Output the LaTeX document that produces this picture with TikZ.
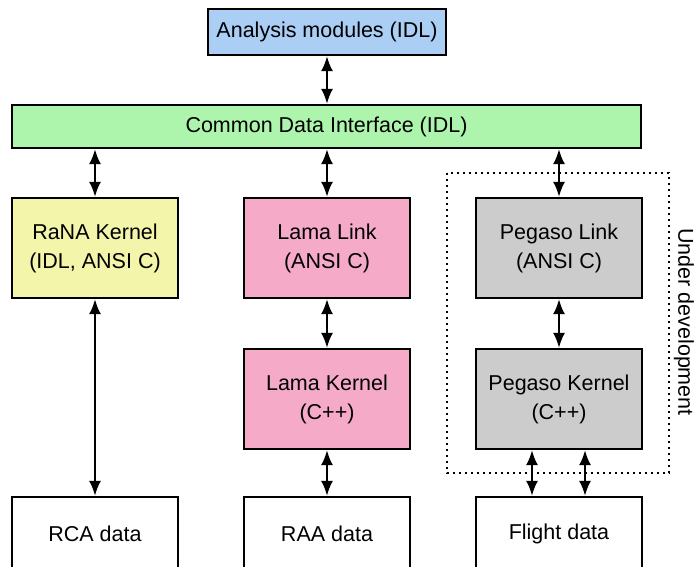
\documentclass[tikz,border=0pt]{standalone}
\usepackage{fontspec}
\setmainfont{Liberation Sans}
\usetikzlibrary{arrows.meta}
\definecolor{cblue}{RGB}{170,206,244}
\definecolor{cgreen}{RGB}{173,245,173}
\definecolor{cyellow}{RGB}{242,245,170}
\definecolor{cpink}{RGB}{245,170,200}
\definecolor{cgray}{RGB}{204,204,204}
\tikzset{
  box/.style={draw, line width=2.2pt, align=center, inner sep=0pt,
    font=\fontsize{21.5}{29}\selectfont, minimum width=166pt, minimum height=100pt},
  arr/.style={line width=2.2pt, {Latex[length=15pt,width=12pt]}-{Latex[length=15pt,width=12pt]}},
  devbox/.style={line width=2pt, dash pattern=on 2pt off 4pt}
}
\begin{document}
\begin{tikzpicture}[x=1pt,y=-1pt]
\useasboundingbox (0,0) rectangle (696,566);
\node[box, fill=cblue, minimum width=238pt, minimum height=46pt] (am) at (327,32) {Analysis modules (IDL)};
\node[box, fill=cgreen, minimum width=629pt, minimum height=43pt] (cdi) at (326.5,126.5) {Common Data Interface (IDL)};
\node[box, fill=cyellow] (rana) at (95,248) {RaNA Kernel\\(IDL, ANSI C)};
\node[box, fill=cpink] (ll) at (327,248) {Lama Link\\(ANSI C)};
\node[box, fill=cgray] (pl) at (559,248) {Pegaso Link\\(ANSI C)};
\node[box, fill=cpink] (lk) at (327,399) {Lama Kernel\\(C++)};
\node[box, fill=cgray] (pk) at (559,399) {Pegaso Kernel\\(C++)};
\node[box, fill=white, minimum height=74pt] (rca) at (95,534) {RCA data};
\node[box, fill=white, minimum height=74pt] (raa) at (327,534) {RAA data};
\node[box, fill=white, minimum height=74pt] (fd) at (559,534) {Flight data};
\draw[devbox] (447,173) rectangle (669,473);
\node[rotate=-90, font=\fontsize{21.5}{29}\selectfont] (ud) at (684,322) {Under development};
\draw[arr] (am.south) -- (am.south |- cdi.north);
\draw[arr] (cdi.south -| rana.north) -- (rana.north);
\draw[arr] (cdi.south -| ll.north) -- (ll.north);
\draw[arr] (cdi.south -| pl.north) -- (pl.north);
\draw[arr] (ll.south) -- (lk.north);
\draw[arr] (pl.south) -- (pk.north);
\draw[arr] (rana.south) -- (rca.north);
\draw[arr] (lk.south) -- (raa.north);
\draw[arr] ([xshift=-27pt]pk.south) -- ([xshift=-27pt]fd.north);
\draw[arr] ([xshift=26pt]pk.south) -- ([xshift=26pt]fd.north);
\end{tikzpicture}
\end{document}
